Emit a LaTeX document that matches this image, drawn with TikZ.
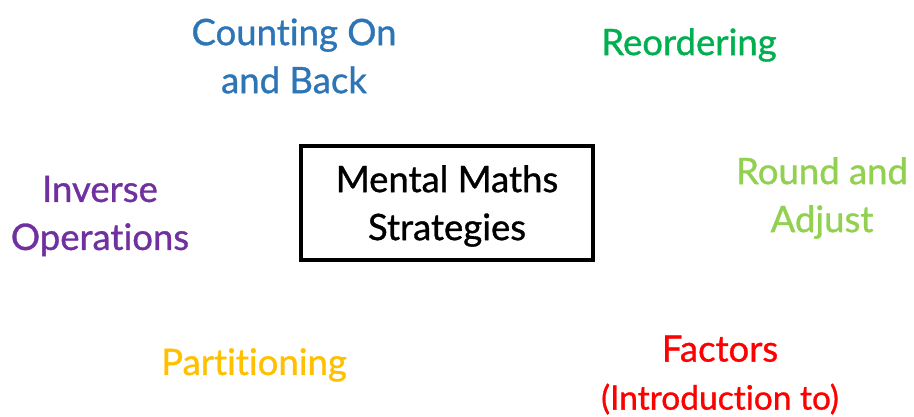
\documentclass[tikz,border=0pt]{standalone}
\usepackage{fontspec}
\setmainfont{Lato}[Ligatures=NoCommon,FakeBold=0.9]
\usepackage{xcolor}
\usetikzlibrary{positioning}
\definecolor{countblue}{HTML}{2E75B6}
\definecolor{reordergreen}{HTML}{00B050}
\definecolor{roundgreen}{HTML}{92D050}
\definecolor{factorred}{HTML}{FF0000}
\definecolor{partorange}{HTML}{FFC000}
\definecolor{inversepurple}{HTML}{7030A0}

\begin{document}
\begin{tikzpicture}[x=1pt,y=1pt,every node/.style={font=\fontsize{36.5}{48}\selectfont,align=center,inner sep=0pt}]
  \useasboundingbox (0,0) rectangle (914,417);
  % centre box
  \node[draw,line width=3.2pt,minimum width=292pt,minimum height=114pt] (centre) at (447,214) {};
  \node (centretext) at ([yshift=-3pt]centre.center) {Mental Maths\\Strategies};
  % strategies round the box
  \node[countblue] (counting) at (294,361) {Counting On\\and Back};
  \node[reordergreen] (reordering) at (689,372) {Reordering};
  \node[roundgreen] (round) at (822,219) {Round and\\Adjust};
  \node[inversepurple] (inverse) at (100,201) {Inverse\\Operations};
  \node[partorange] (partitioning) at (254,52) {Partitioning};
  \node[factorred] (factors) at (720,42) {Factors\\{\fontsize{33.5}{48}\selectfont(Introduction to)}};
\end{tikzpicture}
\end{document}
